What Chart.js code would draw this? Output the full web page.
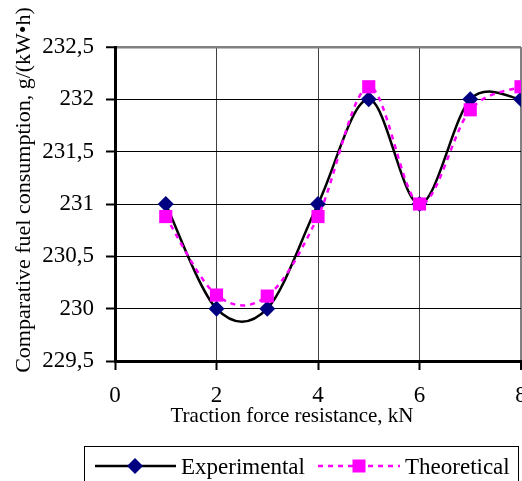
<!DOCTYPE html>
<html><head><meta charset="utf-8">
<script src="https://cdn.jsdelivr.net/npm/chart.js@4/dist/chart.umd.min.js"></script>
<style>
html,body{margin:0;padding:0;background:#fff;overflow:hidden;}
#wrap{width:522px;height:481px;overflow:hidden;position:relative;background:#fff;}
canvas{display:block;}
</style></head><body>
<div id="wrap"><canvas id="c" width="540" height="481"></canvas></div>
<script>
const forceKN = [1, 2, 3, 4, 5, 6, 7, 8];
const experimental = [231, 230, 230, 231, 232, 231, 232, 232];
const theoretical = [230.88, 230.13, 230.12, 230.88, 232.12, 231, 231.9, 232.12];
const xTickLabels = ['0', '2', '4', '6', '8'];
const yTickLabels = ['229,5', '230', '230,5', '231', '231,5', '232', '232,5'];
const seriesNames = ['Experimental', 'Theoretical'];
const xTitle = 'Traction force resistance, kN';
const yTitle = 'Comparative fuel consumption, g/(kW•h)';

const FONT = '"Liberation Serif", "Times New Roman", serif';
const NAVY = '#000080';
const MAGENTA = '#FF00FF';

const toPts = arr => forceKN.map((x, i) => ({x: x, y: arr[i]}));

// Excel-style smoothing: uniform Catmull-Rom control points on the library's own point positions
const excelSmooth = {
  id: 'excelSmooth',
  beforeDatasetDraw(chart, args) {
    const meta = args.meta;
    const line = meta.dataset;
    if (!line) return;
    line.updateControlPoints(chart.chartArea, 'x');
    const pts = meta.data;
    const n = pts.length;
    const k = 1 / 6;
    for (let i = 0; i < n; i++) {
      const p = pts[i];
      const prev = pts[Math.max(0, i - 1)];
      const next = pts[Math.min(n - 1, i + 1)];
      const dx = (next.x - prev.x) * k;
      const dy = (next.y - prev.y) * k;
      p.cp1x = p.x - dx; p.cp1y = p.y - dy;
      p.cp2x = p.x + dx; p.cp2y = p.y + dy;
    }
    line._path = undefined;
  }
};

const extras = {
  id: 'extras',
  afterDraw(chart) {
    const ctx = chart.ctx;
    ctx.save();
    // axis titles
    ctx.fillStyle = '#000';
    ctx.font = '21px ' + FONT;
    ctx.textAlign = 'center';
    ctx.textBaseline = 'alphabetic';
    ctx.fillText(xTitle, 292, 422);
    ctx.save();
    ctx.translate(30, 190);
    ctx.rotate(-Math.PI / 2);
    ctx.font = '22px ' + FONT;
    ctx.fillText(yTitle, 0, 0);
    ctx.restore();

    // legend box
    ctx.strokeStyle = '#000';
    ctx.lineWidth = 1;
    ctx.strokeRect(84.5, 446.5, 434, 40);
    const ly = 466;
    // experimental
    ctx.beginPath();
    ctx.strokeStyle = '#000';
    ctx.lineWidth = 2.5;
    ctx.moveTo(95, ly); ctx.lineTo(176, ly);
    ctx.stroke();
    ctx.fillStyle = NAVY;
    ctx.beginPath();
    ctx.moveTo(135 - 8, ly); ctx.lineTo(135, ly - 8);
    ctx.lineTo(135 + 8, ly); ctx.lineTo(135, ly + 8);
    ctx.closePath(); ctx.fill();
    // theoretical
    ctx.beginPath();
    ctx.strokeStyle = MAGENTA;
    ctx.lineWidth = 2.5;
    ctx.setLineDash([5, 5]);
    ctx.moveTo(318, ly); ctx.lineTo(400, ly);
    ctx.stroke();
    ctx.setLineDash([]);
    ctx.fillStyle = MAGENTA;
    ctx.fillRect(359 - 6.5, ly - 6.5, 13, 13);
    // texts
    ctx.fillStyle = '#000';
    ctx.font = '23px ' + FONT;
    ctx.textAlign = 'left';
    ctx.textBaseline = 'alphabetic';
    ctx.fillText(seriesNames[0], 181, 474);
    ctx.fillText(seriesNames[1], 405, 474);
    ctx.restore();
  }
};

new Chart(document.getElementById('c'), {
  type: 'line',
  data: {
    datasets: [
      {
        label: seriesNames[1],
        data: toPts(theoretical),
        borderColor: MAGENTA,
        borderWidth: 2.5,
        borderDash: [5, 5],
        tension: 0.4,
        fill: false,
        pointStyle: 'rect',
        pointRadius: 9.3,
        pointBackgroundColor: MAGENTA,
        pointBorderColor: MAGENTA,
        pointBorderWidth: 0
      },
      {
        label: seriesNames[0],
        data: toPts(experimental),
        borderColor: '#000',
        borderWidth: 2.5,
        tension: 0.4,
        fill: false,
        pointStyle: 'rectRot',
        pointRadius: 8,
        pointBackgroundColor: NAVY,
        pointBorderColor: NAVY,
        pointBorderWidth: 0
      }
    ]
  },
  options: {
    responsive: false,
    animation: false,
    devicePixelRatio: 1,
    layout: {padding: {left: 0, right: 19, top: 47, bottom: 0}},
    plugins: {legend: {display: false}, tooltip: {enabled: false}},
    scales: {
      x: {
        type: 'linear',
        min: 0, max: 8,
        afterFit: s => { s.height = 120; },
        ticks: {
          stepSize: 2,
          padding: 12,
          color: '#000',
          font: {family: FONT, size: 23},
          maxRotation: 0,
          callback: (v, i) => xTickLabels[i]
        },
        grid: {
          color: c => (c.tick && c.tick.value === 8) ? '#808080' : '#404040',
          lineWidth: c => (c.tick && c.tick.value === 8) ? 2 : 1,
          tickColor: '#000',
          tickWidth: 2,
          tickLength: 9
        },
        border: {display: true, color: '#000', width: 3}
      },
      y: {
        min: 229.5, max: 232.5,
        afterFit: s => { s.width = 115; },
        ticks: {
          stepSize: 0.5,
          padding: 12,
          color: '#000',
          font: {family: FONT, size: 23},
          callback: (v, i) => yTickLabels[i]
        },
        grid: {
          color: c => (c.tick && c.tick.value === 232.5) ? '#808080' : '#000',
          lineWidth: c => (c.tick && c.tick.value === 232.5) ? 2.5 : 1,
          tickColor: '#000',
          tickWidth: 2,
          tickLength: 9
        },
        border: {display: true, color: '#000', width: 3}
      }
    }
  },
  plugins: [excelSmooth, extras]
});
</script>
</body></html>
